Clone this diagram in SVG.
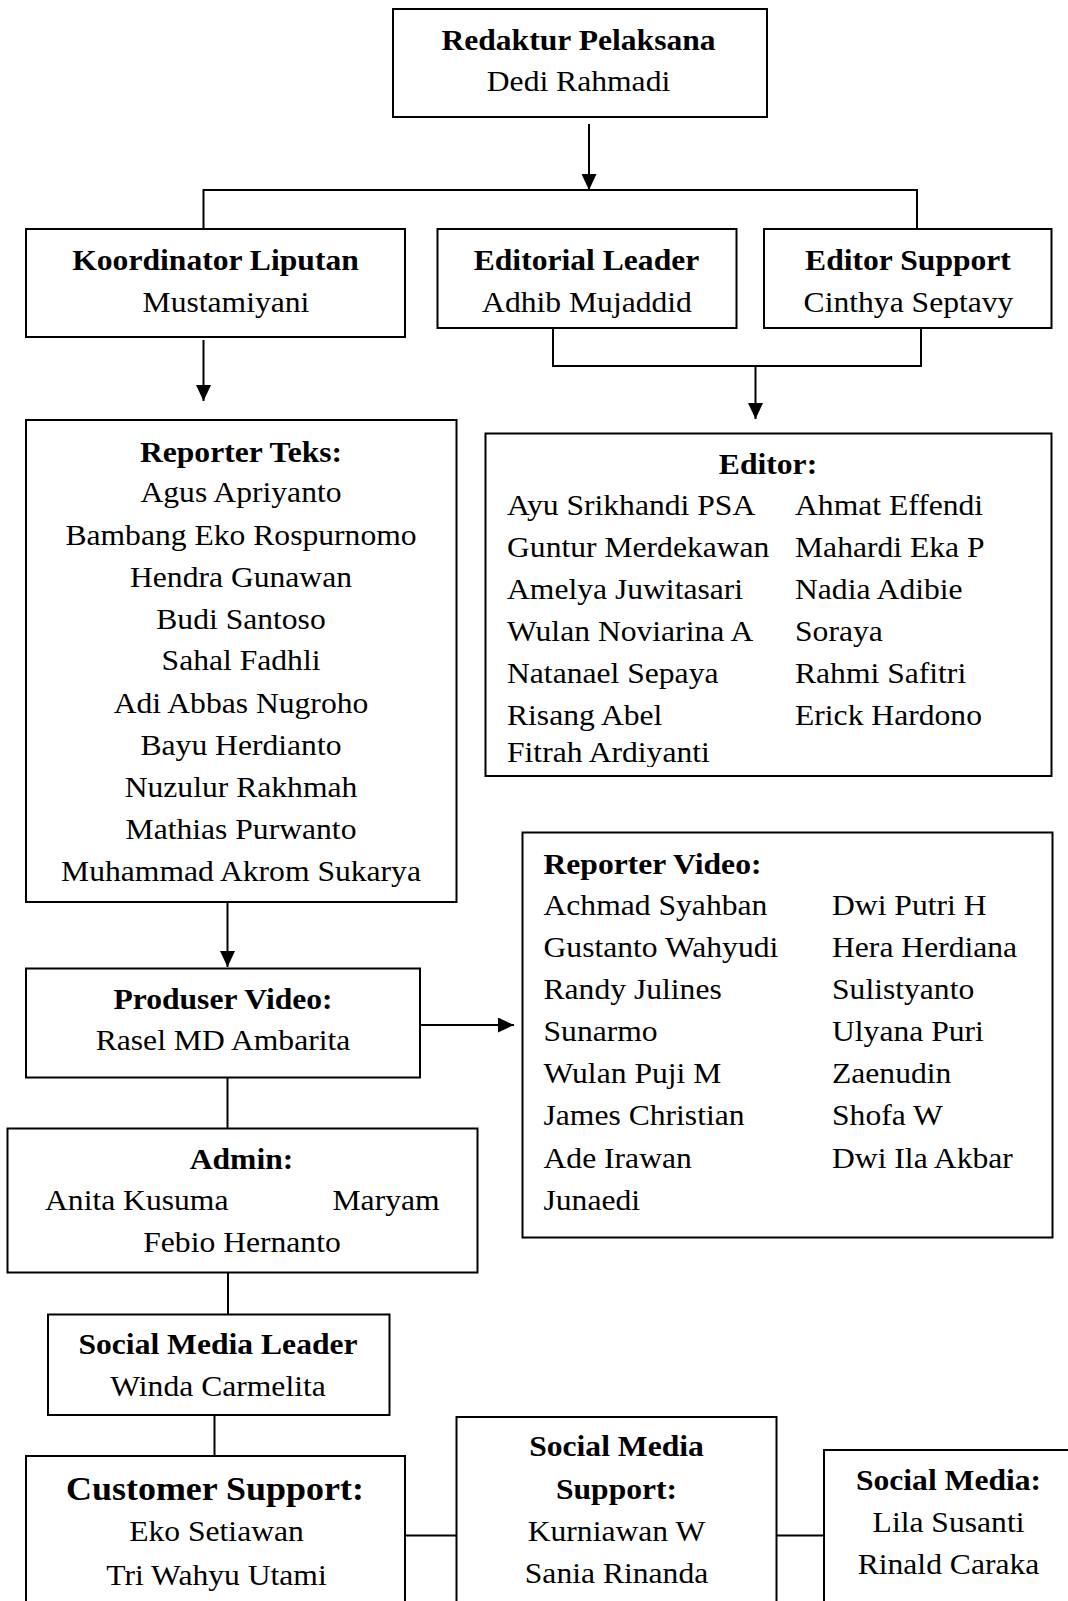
<svg xmlns="http://www.w3.org/2000/svg" width="1068" height="1601" viewBox="0 0 1068 1601">
  <style>
    .box{fill:#fff;stroke:#000;stroke-width:2}
    .ln{fill:none;stroke:#000;stroke-width:2}
    .t{font-family:"Liberation Serif","Times New Roman",serif;font-size:29px;fill:#000}
    .b{font-weight:bold}
    .c{text-anchor:middle}
    .big{font-size:33px}
  </style>
  <defs>
    <marker id="arr" markerUnits="userSpaceOnUse" markerWidth="16" markerHeight="15" refX="16" refY="7.5" orient="auto">
      <path d="M0,0 L16,7.5 L0,15 Z" fill="#000"/>
    </marker>
    <clipPath id="editorClip"><rect x="486" y="434" width="565" height="333"/></clipPath>
  </defs>

  <rect width="1068" height="1601" fill="#fff"/>

  <!-- connectors -->
  <g id="connectors">
    <line class="ln" x1="589" y1="124" x2="589" y2="190" marker-end="url(#arr)"/>
    <polyline class="ln" points="203.5,229 203.5,190 917,190 917,229"/>
    <line class="ln" x1="203.5" y1="340" x2="203.5" y2="401" marker-end="url(#arr)"/>
    <polyline class="ln" points="553,328 553,366 921,366 921,328"/>
    <line class="ln" x1="755.5" y1="366" x2="755.5" y2="419" marker-end="url(#arr)"/>
    <line class="ln" x1="227.5" y1="902" x2="227.5" y2="967" marker-end="url(#arr)"/>
    <line class="ln" x1="420" y1="1025" x2="514" y2="1025" marker-end="url(#arr)"/>
    <line class="ln" x1="227.5" y1="1077" x2="227.5" y2="1128"/>
    <line class="ln" x1="228" y1="1272" x2="228" y2="1314"/>
    <line class="ln" x1="214.5" y1="1415" x2="214.5" y2="1456"/>
    <line class="ln" x1="405" y1="1535.5" x2="456" y2="1535.5"/>
    <line class="ln" x1="777" y1="1535.5" x2="824" y2="1535.5"/>
  </g>

  <g id="redaktur-pelaksana">
    <rect class="box" x="393" y="9" width="374" height="108"/>
    <text class="t b c" transform="translate(578.5 50) scale(1.09 1)">Redaktur Pelaksana</text>
    <text class="t c" transform="translate(578.5 90.5) scale(1.09 1)">Dedi Rahmadi</text>
  </g>

  <g id="koordinator-liputan">
    <rect class="box" x="26" y="229" width="379" height="108"/>
    <text class="t b c" transform="translate(215.5 270) scale(1.09 1)">Koordinator Liputan</text>
    <text class="t c" transform="translate(226 311.5) scale(1.09 1)">Mustamiyani</text>
  </g>

  <g id="editorial-leader">
    <rect class="box" x="437.5" y="229" width="299" height="99"/>
    <text class="t b c" transform="translate(586.5 270) scale(1.09 1)">Editorial Leader</text>
    <text class="t c" transform="translate(587 311.5) scale(1.09 1)">Adhib Mujaddid</text>
  </g>

  <g id="editor-support">
    <rect class="box" x="764" y="229" width="287.5" height="99"/>
    <text class="t b c" transform="translate(908 270) scale(1.09 1)">Editor Support</text>
    <text class="t c" transform="translate(908.5 311.5) scale(1.09 1)">Cinthya Septavy</text>
  </g>

  <g id="reporter-teks">
    <rect class="box" x="26" y="420" width="430.5" height="482"/>
    <text class="t b c" transform="translate(241 461.5) scale(1.09 1)">Reporter Teks:</text>
    <text class="t c" transform="translate(241 502) scale(1.09 1)">Agus Apriyanto</text>
    <text class="t c" transform="translate(241 544.5) scale(1.09 1)">Bambang Eko Rospurnomo</text>
    <text class="t c" transform="translate(241 586.5) scale(1.09 1)">Hendra Gunawan</text>
    <text class="t c" transform="translate(241 628.5) scale(1.09 1)">Budi Santoso</text>
    <text class="t c" transform="translate(241 670) scale(1.09 1)">Sahal Fadhli</text>
    <text class="t c" transform="translate(241 712.5) scale(1.09 1)">Adi Abbas Nugroho</text>
    <text class="t c" transform="translate(241 754.5) scale(1.09 1)">Bayu Herdianto</text>
    <text class="t c" transform="translate(241 796.5) scale(1.09 1)">Nuzulur Rakhmah</text>
    <text class="t c" transform="translate(241 838.5) scale(1.09 1)">Mathias Purwanto</text>
    <text class="t c" transform="translate(241 880.5) scale(1.09 1)">Muhammad Akrom Sukarya</text>
  </g>

  <g id="editor">
    <rect class="box" x="485.5" y="433.5" width="566" height="342.5"/>
    <text class="t b c" transform="translate(768 473.5) scale(1.09 1)">Editor:</text>
    <g clip-path="url(#editorClip)">
      <text class="t" transform="translate(507 515) scale(1.09 1)">Ayu Srikhandi PSA</text>
      <text class="t" transform="translate(507 557) scale(1.09 1)">Guntur Merdekawan</text>
      <text class="t" transform="translate(507 599) scale(1.09 1)">Amelya Juwitasari</text>
      <text class="t" transform="translate(507 641) scale(1.09 1)">Wulan Noviarina A</text>
      <text class="t" transform="translate(507 683) scale(1.09 1)">Natanael Sepaya</text>
      <text class="t" transform="translate(507 725) scale(1.09 1)">Risang Abel</text>
      <text class="t" transform="translate(507 762) scale(1.09 1)">Fitrah Ardiyanti</text>
      <text class="t" transform="translate(795 515) scale(1.09 1)">Ahmat Effendi</text>
      <text class="t" transform="translate(795 557) scale(1.09 1)">Mahardi Eka P</text>
      <text class="t" transform="translate(795 599) scale(1.09 1)">Nadia Adibie</text>
      <text class="t" transform="translate(795 641) scale(1.09 1)">Soraya</text>
      <text class="t" transform="translate(795 683) scale(1.09 1)">Rahmi Safitri</text>
      <text class="t" transform="translate(795 725) scale(1.09 1)">Erick Hardono</text>
    </g>
  </g>

  <g id="reporter-video">
    <rect class="box" x="522.5" y="832.5" width="530" height="405"/>
    <text class="t b" transform="translate(543.5 873.5) scale(1.09 1)">Reporter Video:</text>
    <text class="t" transform="translate(543.5 915) scale(1.09 1)">Achmad Syahban</text>
    <text class="t" transform="translate(543.5 957) scale(1.09 1)">Gustanto Wahyudi</text>
    <text class="t" transform="translate(543.5 998.5) scale(1.09 1)">Randy Julines</text>
    <text class="t" transform="translate(543.5 1041) scale(1.09 1)">Sunarmo</text>
    <text class="t" transform="translate(543.5 1083) scale(1.09 1)">Wulan Puji M</text>
    <text class="t" transform="translate(543.5 1125) scale(1.09 1)">James Christian</text>
    <text class="t" transform="translate(543.5 1167.5) scale(1.09 1)">Ade Irawan</text>
    <text class="t" transform="translate(543.5 1209.5) scale(1.09 1)">Junaedi</text>
    <text class="t" transform="translate(832 915) scale(1.09 1)">Dwi Putri H</text>
    <text class="t" transform="translate(832 957) scale(1.09 1)">Hera Herdiana</text>
    <text class="t" transform="translate(832 998.5) scale(1.09 1)">Sulistyanto</text>
    <text class="t" transform="translate(832 1041) scale(1.09 1)">Ulyana Puri</text>
    <text class="t" transform="translate(832 1083) scale(1.09 1)">Zaenudin</text>
    <text class="t" transform="translate(832 1125) scale(1.09 1)">Shofa W</text>
    <text class="t" transform="translate(832 1167.5) scale(1.09 1)">Dwi Ila Akbar</text>
  </g>

  <g id="produser-video">
    <rect class="box" x="26" y="968.5" width="394" height="109"/>
    <text class="t b c" transform="translate(223 1008.5) scale(1.09 1)">Produser Video:</text>
    <text class="t c" transform="translate(223 1050) scale(1.09 1)">Rasel MD Ambarita</text>
  </g>

  <g id="admin">
    <rect class="box" x="7.5" y="1128.5" width="470" height="144"/>
    <text class="t b c" transform="translate(241.5 1168.5) scale(1.09 1)">Admin:</text>
    <text class="t" transform="translate(45 1210) scale(1.09 1)">Anita Kusuma</text>
    <text class="t" transform="translate(332.5 1210) scale(1.09 1)">Maryam</text>
    <text class="t c" transform="translate(242 1251.5) scale(1.09 1)">Febio Hernanto</text>
  </g>

  <g id="social-media-leader">
    <rect class="box" x="48" y="1314.5" width="341.5" height="100.5"/>
    <text class="t b c" transform="translate(218 1353.5) scale(1.09 1)">Social Media Leader</text>
    <text class="t c" transform="translate(218 1396) scale(1.09 1)">Winda Carmelita</text>
  </g>

  <g id="customer-support">
    <rect class="box" x="26" y="1456" width="379" height="170"/>
    <text class="t b c big" transform="translate(215 1500) scale(1.09 1)">Customer Support:</text>
    <text class="t c" transform="translate(216.5 1541) scale(1.09 1)">Eko Setiawan</text>
    <text class="t c" transform="translate(216.5 1585) scale(1.09 1)">Tri Wahyu Utami</text>
  </g>

  <g id="social-media-support">
    <rect class="box" x="456.5" y="1417" width="320" height="210"/>
    <text class="t b c" transform="translate(616.5 1456) scale(1.09 1)">Social Media</text>
    <text class="t b c" transform="translate(616.5 1499) scale(1.09 1)">Support:</text>
    <text class="t c" transform="translate(616.5 1540.5) scale(1.09 1)">Kurniawan W</text>
    <text class="t c" transform="translate(616.5 1582.5) scale(1.09 1)">Sania Rinanda</text>
  </g>

  <g id="social-media">
    <rect class="box" x="824" y="1450" width="260" height="180"/>
    <text class="t b c" transform="translate(948.5 1490) scale(1.09 1)">Social Media:</text>
    <text class="t c" transform="translate(948.5 1532) scale(1.09 1)">Lila Susanti</text>
    <text class="t c" transform="translate(948.5 1573.5) scale(1.09 1)">Rinald Caraka</text>
  </g>
</svg>
